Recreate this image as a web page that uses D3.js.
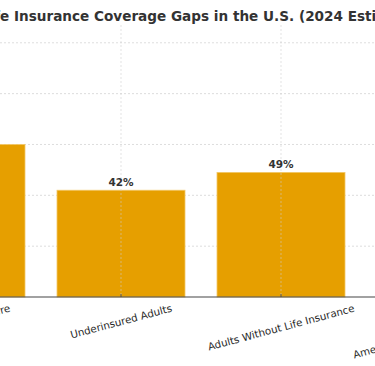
<!DOCTYPE html>
<html>
<head>
<meta charset="utf-8">
<script src="https://cdn.jsdelivr.net/npm/d3@7"></script>
<style>
  html, body { margin: 0; padding: 0; background: #fff; overflow: hidden; }
  svg { display: block; font-family: "DejaVu Sans", sans-serif; }
</style>
</head>
<body>
<div id="chart"></div>
<script>
// chart data
const titleText = "Life Insurance Coverage Gaps in the U.S. (2024 Estimates)";
const categories = [
    "Financially Insecure",
    "Underinsured Adults",
    "Adults Without Life Insurance",
    "Americans Needing More Coverage"
];
const values = [60, 42, 49, 41];
const yTicks = [0, 20, 40, 60, 80, 100];

const width = 375, height = 366;
const plotTop = 25, plotBottom = 297;

const svg = d3.select("#chart")
    .append("svg")
    .attr("width", width)
    .attr("height", height);

// the view only shows the middle of a wider chart
const x = d3.scaleBand()
    .domain(categories)
    .range([-119, 521])
    .paddingInner(0.2)
    .paddingOuter(0.1);

const y = d3.scaleLinear()
    .domain([0, 107])
    .range([plotBottom, plotTop]);

// horizontal grid
svg.append("g")
    .selectAll("line")
    .data(yTicks.filter(d => d > 0))
    .join("line")
    .attr("x1", 0)
    .attr("x2", width)
    .attr("y1", d => y(d))
    .attr("y2", d => y(d))
    .attr("stroke", "#d4d4d4")
    .attr("stroke-width", 0.8)
    .attr("stroke-dasharray", "2,2");

// bars
svg.append("g")
    .selectAll("rect")
    .data(categories)
    .join("rect")
    .attr("x", d => x(d))
    .attr("width", x.bandwidth())
    .attr("y", (d, i) => y(values[i]))
    .attr("height", (d, i) => y(0) - y(values[i]))
    .attr("fill", "#E69F00")
    .attr("stroke", "#f2c766")
    .attr("stroke-width", 0.8);

// vertical grid (drawn over the bars, faint)
svg.append("g")
    .selectAll("line")
    .data(categories)
    .join("line")
    .attr("x1", d => x(d) + x.bandwidth() / 2)
    .attr("x2", d => x(d) + x.bandwidth() / 2)
    .attr("y1", plotTop)
    .attr("y2", plotBottom)
    .attr("stroke", "#cfcfcf")
    .attr("stroke-opacity", 0.7)
    .attr("stroke-width", 0.8)
    .attr("stroke-dasharray", "2,2");

// value labels
svg.append("g")
    .selectAll("text")
    .data(categories)
    .join("text")
    .attr("x", d => x(d) + x.bandwidth() / 2)
    .attr("y", (d, i) => y(values[i]) - 4)
    .attr("text-anchor", "middle")
    .attr("font-size", "10.5px")
    .attr("font-weight", "bold")
    .attr("fill", "#333")
    .text((d, i) => values[i] + "%");

// x axis
const xAxis = svg.append("g")
    .attr("transform", `translate(0,${plotBottom})`)
    .call(d3.axisBottom(x).tickSize(0).tickFormat(""));
xAxis.select(".domain").remove();

xAxis.append("line")
    .attr("x1", 0)
    .attr("x2", width)
    .attr("stroke", "#444")
    .attr("stroke-width", 1.2);

xAxis.selectAll(".tick").append("line")
    .attr("y1", 0)
    .attr("y2", -3)
    .attr("stroke", "#555")
    .attr("stroke-width", 1);

// rotated tick labels, rotated box centred on the tick
const angle = 15 * Math.PI / 180;
const labelTop = 302;
const labels = svg.append("g")
    .selectAll("text")
    .data(categories)
    .join("text")
    .attr("text-anchor", "middle")
    .attr("dominant-baseline", "central")
    .attr("font-size", "10.3px")
    .attr("fill", "#2a2a2a")
    .text(d => d);

labels.each(function(d) {
    const len = this.getComputedTextLength();
    const h = 11.5;
    const boxH = len * Math.sin(angle) + h * Math.cos(angle);
    const cx = x(d) + x.bandwidth() / 2;
    const cy = labelTop + boxH / 2;
    d3.select(this)
        .attr("transform", `translate(${cx},${cy}) rotate(-15)`);
});

// title, shifted so the cropped view matches
const title = svg.append("text")
    .attr("y", 20.5)
    .attr("font-size", "13.6px")
    .attr("font-weight", "bold")
    .attr("fill", "#333")
    .text(titleText);
const hidden = title.node().getSubStringLength(0, 3);
title.attr("x", 0 - hidden);
</script>
</body>
</html>
